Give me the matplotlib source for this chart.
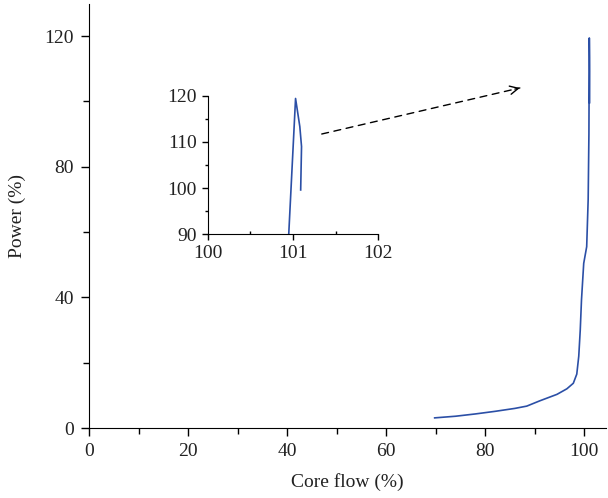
import matplotlib
matplotlib.use('Agg')
import matplotlib.pyplot as plt
from matplotlib.ticker import MultipleLocator

plt.rcParams['font.family'] = ['Liberation Serif', 'DejaVu Serif']

# core flow (%) vs power (%)
flow = [69.8, 74, 78, 82, 86, 88.4, 91, 94.5, 96.5, 97.8, 98.5, 98.9, 99.2, 99.45,
        99.9, 100.5, 100.8, 100.95, 101.03, 101.08, 101.10, 101.09]
power = [3.1, 3.6, 4.3, 5.1, 6.0, 6.7, 8.3, 10.3, 12.0, 13.7, 16.5, 22, 30, 39.2,
         50.4, 55.5, 70, 90, 119.4, 113.3, 109, 99.6]

blue = '#2b4fa6'

fig = plt.figure(figsize=(6.08, 4.98), dpi=100)
ax = fig.add_axes([89/608, 1-428/498, 517/608, 424/498])
ax.plot(flow, power, color=blue, lw=1.2)
ax.set_xlim(0, 104.4)
ax.set_ylim(0, 129.8)
ax.spines['top'].set_visible(False)
ax.spines['right'].set_visible(False)
ax.xaxis.set_major_locator(MultipleLocator(20))
ax.xaxis.set_minor_locator(MultipleLocator(10))
ax.yaxis.set_major_locator(MultipleLocator(40))
ax.yaxis.set_minor_locator(MultipleLocator(20))
ax.tick_params(which='both', direction='out', labelsize=14, width=1, color='black',
               labelcolor='#222222')
ax.tick_params(which='major', length=6, pad=5)
ax.tick_params(which='minor', length=4)
ax.set_xlabel('Core flow (%)', fontsize=14, labelpad=9, color='#222222')
ax.set_ylabel('Power (%)', fontsize=14, labelpad=13, color='#222222')

# dashed arrow pointing to the zoomed region
ax.annotate('', xy=(87, 104.1), xytext=(47, 90),
            arrowprops=dict(arrowstyle='-', ls=(0, (5, 4)), color='black', lw=1,
                            shrinkA=0, shrinkB=0))
ax.annotate('', xy=(87, 104.1), xytext=(86.0, 103.75),
            arrowprops=dict(arrowstyle='->', color='black', lw=1,
                            mutation_scale=15, shrinkA=0, shrinkB=0))

# inset
ins = fig.add_axes([207.7/608, 1-234.3/498, 170.6/608, 138.6/498])
ins.patch.set_alpha(0)
ins.plot(flow, power, color=blue, lw=1.2)
ins.set_xlim(100, 102)
ins.set_ylim(90, 120)
ins.spines['top'].set_visible(False)
ins.spines['right'].set_visible(False)
ins.xaxis.set_major_locator(MultipleLocator(1))
ins.xaxis.set_minor_locator(MultipleLocator(0.5))
ins.yaxis.set_major_locator(MultipleLocator(10))
ins.yaxis.set_minor_locator(MultipleLocator(5))
ins.tick_params(which='both', direction='out', labelsize=14, width=1,
                labelcolor='#222222')
ins.tick_params(which='major', length=4, pad=4)
ins.tick_params(which='minor', length=2.5)
ins.tick_params(axis='x', which='minor', direction='in')

fig.savefig('out.png', dpi=100)
